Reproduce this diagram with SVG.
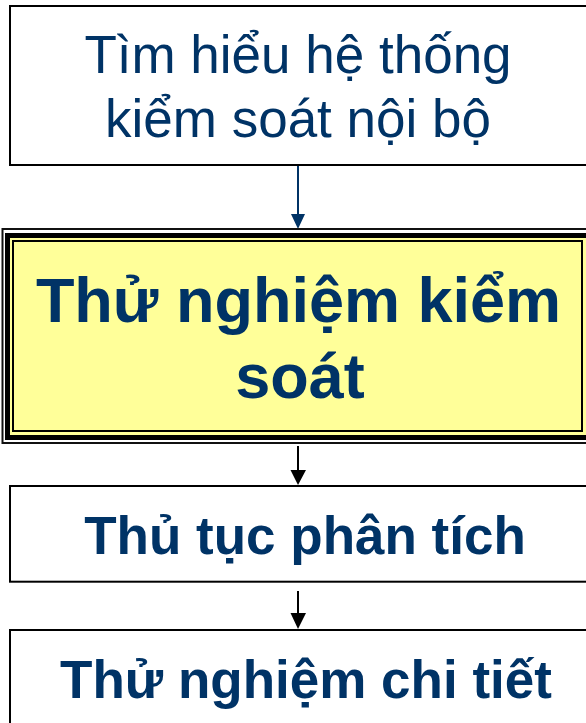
<svg xmlns="http://www.w3.org/2000/svg" width="586" height="723" viewBox="0 0 586 723">
  <style>
    .box { fill: #FFFFFF; stroke: #000000; stroke-width: 2; }
    .txt { font-family: "Liberation Sans", Arial, sans-serif; fill: #003366; text-anchor: middle; }
    .reg { font-size: 53px; }
    .bold { font-weight: bold; }
    .ln { stroke-width: 2; fill: none; }
  </style>
  <rect width="586" height="723" fill="#FFFFFF"/>
  <g id="connectors">
    <line class="ln" x1="298" y1="166" x2="298" y2="215" stroke="#003366"/>
    <polygon points="291,214 305,214 298,229" fill="#003366"/>
    <line class="ln" x1="298" y1="446" x2="298" y2="471" stroke="#000000"/>
    <polygon points="290.5,470 306,470 298,485" fill="#000000"/>
    <line class="ln" x1="298" y1="591" x2="298" y2="614" stroke="#000000"/>
    <polygon points="290.5,613 306,613 298,629" fill="#000000"/>
  </g>
  <g id="node-tim-hieu">
    <rect class="box" x="10" y="6" width="600" height="159"/>
    <text class="txt reg" x="298" y="73.3">Tìm hiểu hệ thống</text>
    <text class="txt reg" x="298" y="136.7">kiểm soát nội bộ</text>
  </g>
  <g id="node-thu-nghiem-kiem-soat">
    <rect x="2.5" y="229" width="600" height="214" fill="#FFFFFF" stroke="#111111" stroke-width="2"/>
    <rect x="7.5" y="235.5" width="582" height="202" fill="#FFFF99" stroke="#000000" stroke-width="5"/>
    <rect x="13" y="241" width="569" height="190" fill="none" stroke="#000000" stroke-width="2"/>
    <text class="txt bold" font-size="63" x="298.5" y="321.7">Thử nghiệm kiểm</text>
    <text class="txt bold" font-size="63" x="300" y="398">soát</text>
  </g>
  <g id="node-thu-tuc-phan-tich">
    <rect class="box" x="10" y="486" width="600" height="95.7"/>
    <text class="txt bold" font-size="53" x="305" y="554">Thủ tục phân tích</text>
  </g>
  <g id="node-thu-nghiem-chi-tiet">
    <rect class="box" x="10" y="630" width="600" height="120"/>
    <text class="txt bold" font-size="53" x="306" y="698">Thử nghiệm chi tiết</text>
  </g>
</svg>
